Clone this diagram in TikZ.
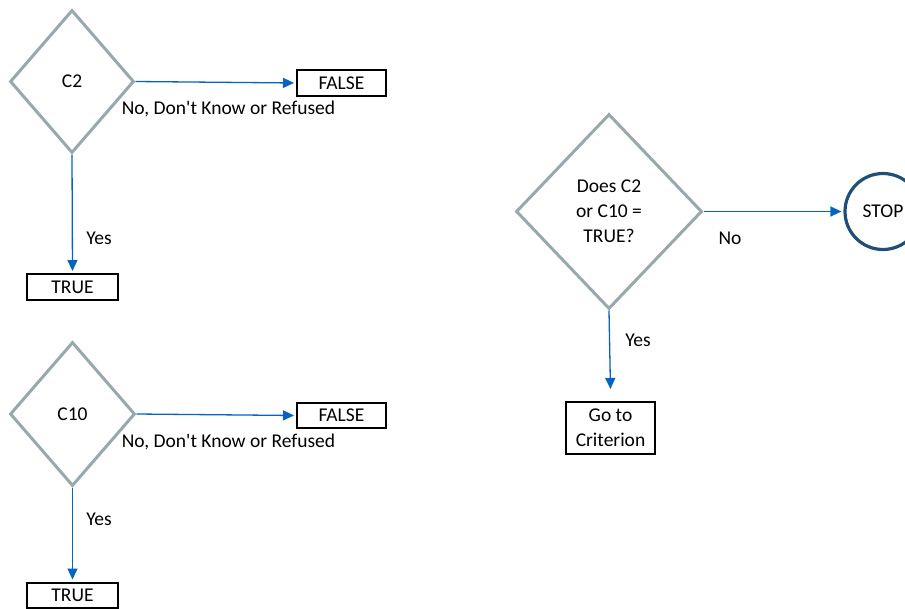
\documentclass[tikz,border=0pt]{standalone}
\usepackage{fontspec}
\setmainfont{Carlito}
\usetikzlibrary{shapes.geometric,arrows.meta}
\definecolor{dgray}{RGB}{152,169,173}
\definecolor{arrblue}{RGB}{5,99,193}
\definecolor{stopblue}{RGB}{31,78,121}
\tikzset{
  every node/.style={font=\fontsize{19.5}{25}\selectfont},
  decision/.style={shape=diamond, draw=dgray, line width=3pt, inner sep=0pt, align=center},
  outbox/.style={draw=black, line width=2pt, inner sep=0pt, align=center},
  stopnode/.style={circle, draw=stopblue, line width=3.2pt, inner sep=0pt, minimum size=76pt},
  flow/.style={draw=arrblue, line width=1.3pt, -{Triangle[length=11pt,width=10pt]}, shorten >=2pt},
  lbl/.style={inner sep=0pt}
}
\begin{document}
\begin{tikzpicture}[x=1pt,y=-1pt]
\useasboundingbox (0,0) rectangle (905,608);
% first block
\node[decision, minimum width=124pt, minimum height=143pt] (d1) at (72,81.5) {C2};
\node[outbox, minimum width=89pt, minimum height=26pt] (f1) at (341.5,83) {FALSE};
\node[outbox, minimum width=91pt, minimum height=26pt] (t1) at (72.5,287) {TRUE};
\draw[flow] (d1.east) -- (f1.west);
\draw[flow] (d1.south) -- (t1.north);
\node[lbl] (l1) at (228.5,109) {No, Don\textquotesingle t Know or Refused};
\node[lbl] (y1) at (99,238) {Yes};
% second block
\node[decision, minimum width=125pt, minimum height=144pt] (d2) at (72.5,414) {C10};
\node[outbox, minimum width=89pt, minimum height=25pt] (f2) at (341.5,415.5) {FALSE};
\node[outbox, minimum width=91pt, minimum height=25pt] (t2) at (72.5,595) {TRUE};
\draw[flow] (d2.east) -- (f2.west);
\draw[flow] (d2.south) -- (t2.north);
\node[lbl] (l2) at (228.5,442) {No, Don\textquotesingle t Know or Refused};
\node[lbl] (y2) at (99,519) {Yes};
% third block
\node[decision, minimum width=186pt, minimum height=195pt] (d3) at (609,211.5) {Does C2\\or C10 =\\TRUE?};
\node[stopnode] (stop) at (883,211.5) {STOP};
\node[outbox, minimum width=89pt, minimum height=52pt] (g) at (610.5,428) {Go to\\Criterion};
\coordinate (gtop) at ([yshift=10pt]g.north);
\draw[flow] (d3.south) -- (gtop);
\draw[flow] (d3.east) -- (stop.west);
\node[lbl] (n3) at (730,238) {No};
\node[lbl] (y3) at (638,340) {Yes};
\end{tikzpicture}
\end{document}
